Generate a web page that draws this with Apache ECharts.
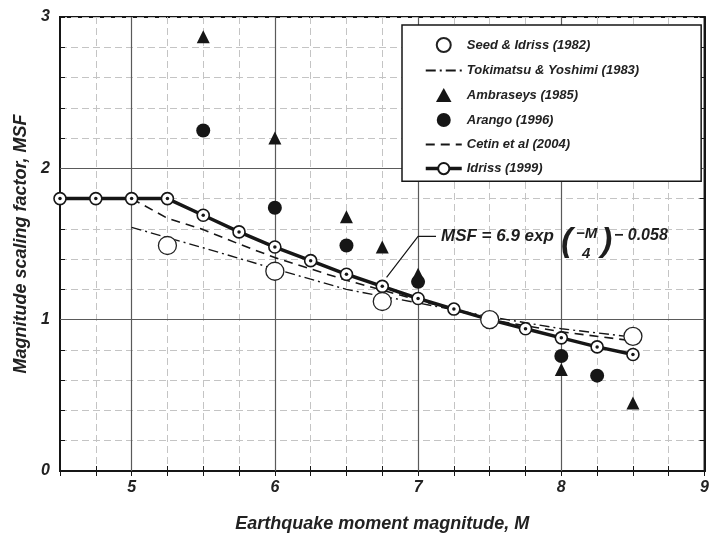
<!DOCTYPE html>
<html>
<head>
<meta charset="utf-8">
<script src="https://cdn.jsdelivr.net/npm/echarts@6/dist/echarts.min.js"></script>
<style>
html,body{margin:0;padding:0;background:#fff;}
#chart{width:712px;height:538px;}
</style>
</head>
<body>
<div id="chart"></div>
<script>
// ---- data ----
const idrissM   = [4.5, 4.75, 5, 5.25, 5.5, 5.75, 6, 6.25, 6.5, 6.75, 7, 7.25, 7.5, 7.75, 8, 8.25, 8.5];
const idrissMSF = [1.80, 1.80, 1.80, 1.80, 1.69, 1.58, 1.48, 1.39, 1.30, 1.22, 1.14, 1.07, 1.00, 0.94, 0.88, 0.82, 0.77];

const seedM   = [5.25, 6, 6.75, 7.5, 8.5];
const seedMSF = [1.49, 1.32, 1.12, 1.00, 0.89];

const tokiM   = [5, 5.5, 6, 6.5, 7, 7.5, 8, 8.5];
const tokiMSF = [1.61, 1.475, 1.335, 1.20, 1.11, 1.02, 0.94, 0.885];

const cetinM   = [5, 5.25, 5.5, 5.75, 6, 6.5, 7, 7.5, 8, 8.5];
const cetinMSF = [1.80, 1.67, 1.595, 1.50, 1.41, 1.26, 1.13, 1.00, 0.92, 0.86];

const ambM   = [5.5, 6, 6.5, 6.75, 7, 8, 8.5];
const ambMSF = [2.87, 2.20, 1.68, 1.48, 1.30, 0.67, 0.45];

const arangoM   = [5.5, 6, 6.5, 7, 8, 8.25];
const arangoMSF = [2.25, 1.74, 1.49, 1.25, 0.76, 0.63];

const majorX = [5, 6, 7, 8];
const majorY = [1, 2];

// leader line for the equation annotation (data units)
const leaderM   = [7.125, 7.0, 6.78];
const leaderMSF = [1.55, 1.55, 1.28];

const names = ['Seed & Idriss (1982)', 'Tokimatsu & Yoshimi (1983)', 'Ambraseys (1985)',
               'Arango (1996)', 'Cetin et al (2004)', 'Idriss (1999)'];

const zip = (a, b) => a.map((v, i) => [v, b[i]]);

const FONT = '"Liberation Sans", Arial, sans-serif';
const INK = '#161616';

const chart = echarts.init(document.getElementById('chart'), null, {renderer: 'canvas'});

const isInt = v => Math.abs(v - Math.round(v)) < 1e-6;
const noSymbol = {color: 'transparent', borderWidth: 0, borderColor: 'transparent'};

const option = {
  backgroundColor: '#ffffff',
  animation: false,
  grid: {left: 60, right: 4, top: 17, bottom: 66, show: true, borderColor: INK, borderWidth: 2, backgroundColor: 'transparent'},
  legend: {
    data: [
      {name: names[0]},
      {name: names[1], itemStyle: noSymbol},
      {name: names[2], icon: 'path://M5,0 L10,9 L0,9 Z'},
      {name: names[3]},
      {name: names[4], itemStyle: noSymbol},
      {name: names[5], lineStyle: {width: 3.5, color: INK}}
    ],
    orient: 'vertical',
    left: 402, top: 25, z: 20, zlevel: 0,
    padding: [12, 62, 6, 22],
    itemWidth: 36, itemHeight: 14, itemGap: 11,
    backgroundColor: '#ffffff',
    borderColor: INK, borderWidth: 1.5, borderRadius: 0,
    textStyle: {fontFamily: FONT, fontSize: 13, fontWeight: 'bold', fontStyle: 'italic', color: '#222'},
    selectedMode: false
  },
  xAxis: [{
    type: 'value', min: 4.5, max: 9, interval: 0.25,
    name: 'Earthquake moment magnitude, M', nameLocation: 'middle', nameGap: 44,
    nameTextStyle: {fontFamily: FONT, fontSize: 18, fontWeight: 'bold', fontStyle: 'italic', color: '#222'},
    axisLine: {show: true, onZero: false, lineStyle: {color: INK, width: 2}},
    axisTick: {show: true, inside: true, length: 5, lineStyle: {color: INK}},
    axisLabel: {margin: 9, fontFamily: FONT, fontSize: 16, fontWeight: 'bold', fontStyle: 'italic', color: '#222',
      formatter: v => isInt(v) ? String(Math.round(v)) : ''},
    splitLine: {show: true, lineStyle: {color: '#c4c4c4', width: 1, type: [7, 4]}}
  }, {
    type: 'value', min: 4.5, max: 9, interval: 0.25, position: 'top',
    axisLine: {show: true, lineStyle: {color: INK, width: 2}},
    axisTick: {show: true, inside: true, length: 5, lineStyle: {color: INK}},
    axisLabel: {show: false}, splitLine: {show: false}
  }],
  yAxis: [{
    type: 'value', min: 0, max: 3, interval: 0.2,
    name: 'Magnitude scaling factor, MSF', nameLocation: 'middle', nameGap: 30,
    nameTextStyle: {fontFamily: FONT, fontSize: 18, fontWeight: 'bold', fontStyle: 'italic', color: '#222'},
    axisLine: {show: true, lineStyle: {color: INK, width: 2}},
    axisTick: {show: true, inside: true, length: 5, lineStyle: {color: INK}},
    axisLabel: {margin: 10, fontFamily: FONT, fontSize: 16, fontWeight: 'bold', fontStyle: 'italic', color: '#222',
      formatter: v => isInt(v) ? String(Math.round(v)) : ''},
    splitLine: {show: true, lineStyle: {color: '#c4c4c4', width: 1, type: [7, 4]}}
  }, {
    type: 'value', min: 0, max: 3, interval: 0.2, position: 'right',
    axisLine: {show: true, lineStyle: {color: INK, width: 2}},
    axisTick: {show: true, inside: true, length: 5, lineStyle: {color: INK}},
    axisLabel: {show: false}, splitLine: {show: false}
  }],
  series: [
    {
      name: 'majorGrid', type: 'line', data: [], silent: true, z: 1,
      markLine: {
        silent: true, symbol: 'none', label: {show: false}, animation: false, z: 1,
        lineStyle: {color: '#5a5a5a', width: 1.2, type: 'solid'},
        data: majorX.map(v => ({xAxis: v})).concat(majorY.map(v => ({yAxis: v})))
      }
    },
    {
      name: names[1], type: 'line', data: zip(tokiM, tokiMSF), symbol: 'none', z: 3,
      lineStyle: {color: INK, width: 1.4, type: [10, 4, 2, 4]}, itemStyle: {color: INK}
    },
    {
      name: names[4], type: 'line', data: zip(cetinM, cetinMSF), symbol: 'none', z: 3,
      lineStyle: {color: INK, width: 1.6, type: [9, 6]}, itemStyle: {color: INK}
    },
    {
      name: 'leader', type: 'line', data: zip(leaderM, leaderMSF), symbol: 'none', z: 4, silent: true,
      lineStyle: {color: INK, width: 1.2}
    },
    {
      name: names[5], type: 'line', data: zip(idrissM, idrissMSF), symbol: 'circle', symbolSize: 12, z: 5,
      lineStyle: {color: INK, width: 3.5},
      itemStyle: {color: '#ffffff', borderColor: INK, borderWidth: 1.6, opacity: 1}
    },
    {
      name: 'idrissDot', type: 'scatter', data: zip(idrissM, idrissMSF), symbol: 'circle', symbolSize: 3.5, z: 6,
      itemStyle: {color: INK, opacity: 1}, silent: true
    },
    {
      name: names[0], type: 'scatter', data: zip(seedM, seedMSF), symbol: 'circle', symbolSize: 18, z: 7,
      itemStyle: {color: '#ffffff', borderColor: '#222', borderWidth: 1.3, opacity: 1}
    },
    {
      name: names[2], type: 'scatter', data: zip(ambM, ambMSF), symbol: 'triangle', symbolSize: 13, z: 7,
      itemStyle: {color: INK, opacity: 1}
    },
    {
      name: names[3], type: 'scatter', data: zip(arangoM, arangoMSF), symbol: 'circle', symbolSize: 14, z: 7,
      itemStyle: {color: INK, opacity: 1}
    }
  ]
};

chart.setOption(option);

// ---- equation annotation ----
const anchor = chart.convertToPixel({gridIndex: 0}, [leaderM[0], leaderMSF[0]]);
const ax = anchor[0] + 5, ay = anchor[1];
const tStyle = (txt, size) => ({
  text: txt, fill: '#1e1e1e', font: 'italic bold ' + size + 'px ' + FONT
});
chart.setOption({
  graphic: [
    {type: 'text', left: ax, top: ay - 9, style: tStyle('MSF = 6.9 exp', 17)},
    {type: 'text', left: ax + 120, top: ay - 12, style: tStyle('(', 34)},
    {type: 'text', left: ax + 135, top: ay - 10, style: tStyle('\u2212M', 15)},
    {type: 'text', left: ax + 141, top: ay + 10, style: tStyle('4', 15)},
    {type: 'text', left: ax + 160, top: ay - 12, style: tStyle(')', 34)},
    {type: 'text', left: ax + 173, top: ay - 9, style: tStyle('\u2212 0.058', 16)}
  ]
});
</script>
</body>
</html>
